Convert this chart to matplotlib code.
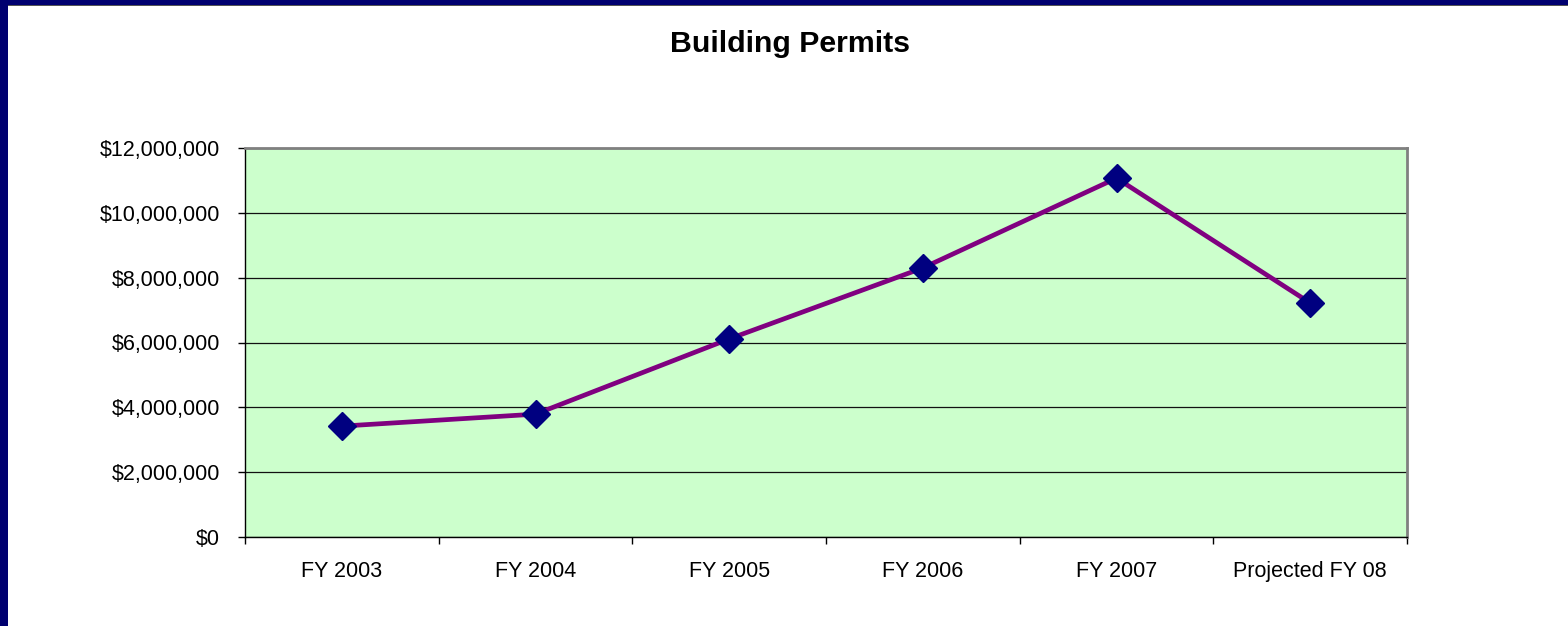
import matplotlib
matplotlib.use("Agg")
import matplotlib.pyplot as plt
from matplotlib.patches import Rectangle
from matplotlib.ticker import FuncFormatter, FixedLocator

plt.rcParams['font.family'] = ['Liberation Sans', 'DejaVu Sans']

# data
years = ['FY 2003', 'FY 2004', 'FY 2005', 'FY 2006', 'FY 2007', 'Projected FY 08']
permits = [3420000, 3790000, 6110000, 8300000, 11070000, 7220000]
y_ticks = [0, 2000000, 4000000, 6000000, 8000000, 10000000, 12000000]

fig = plt.figure(figsize=(15.68, 6.26), dpi=100)
fig.patch.set_facecolor('white')

# navy frame on left and top edges
fig.patches.append(Rectangle((0, 0), 8 / 1568, 1, transform=fig.transFigure,
                             facecolor='#000070', edgecolor='none', zorder=0))
fig.patches.append(Rectangle((0, 1 - 5 / 626), 1, 5 / 626, transform=fig.transFigure,
                             facecolor='#000070', edgecolor='none', zorder=0))
fig.patches.append(Rectangle((8 / 1568, 1 - 6 / 626), 1, 1 / 626, transform=fig.transFigure,
                             facecolor='#555555', edgecolor='none', zorder=0))

ax = fig.add_axes([245 / 1568, 1 - 537 / 626, 1162 / 1568, 389 / 626])
ax.set_facecolor('#CCFFCC')

x = list(range(len(years)))
ax.plot(x, permits, color='#800080', linewidth=3.4, zorder=3,
        marker='D', markersize=14, markerfacecolor='#000080',
        markeredgecolor='#000080')

ax.set_xlim(-0.5, len(years) - 0.5)
ax.set_ylim(0, 12000000)
ax.set_yticks(y_ticks)
ax.yaxis.set_major_formatter(FuncFormatter(lambda v, p: f'${v:,.0f}'))
ax.grid(axis='y', color='#111111', linewidth=0.9)
ax.set_axisbelow(True)

ax.set_xticks(x)
ax.set_xticklabels(years)
ax.xaxis.set_minor_locator(FixedLocator([i - 0.5 for i in range(len(years) + 1)]))
ax.tick_params(axis='x', which='major', length=0, pad=17, labelsize=15.5)
ax.tick_params(axis='x', which='minor', length=5, width=1, color='black', direction='out')
ax.tick_params(axis='y', length=5, width=1, color='black', pad=13, labelsize=15.5)

for side in ['top', 'right']:
    ax.spines[side].set_color('#808080')
    ax.spines[side].set_linewidth(2)
for side in ['left', 'bottom']:
    ax.spines[side].set_color('black')
    ax.spines[side].set_linewidth(1)

fig.text(790 / 1568, 1 - 52 / 626, 'Building Permits', ha='center', va='baseline',
         fontsize=21.8, fontweight='bold')

fig.savefig('out.png', dpi=100)
